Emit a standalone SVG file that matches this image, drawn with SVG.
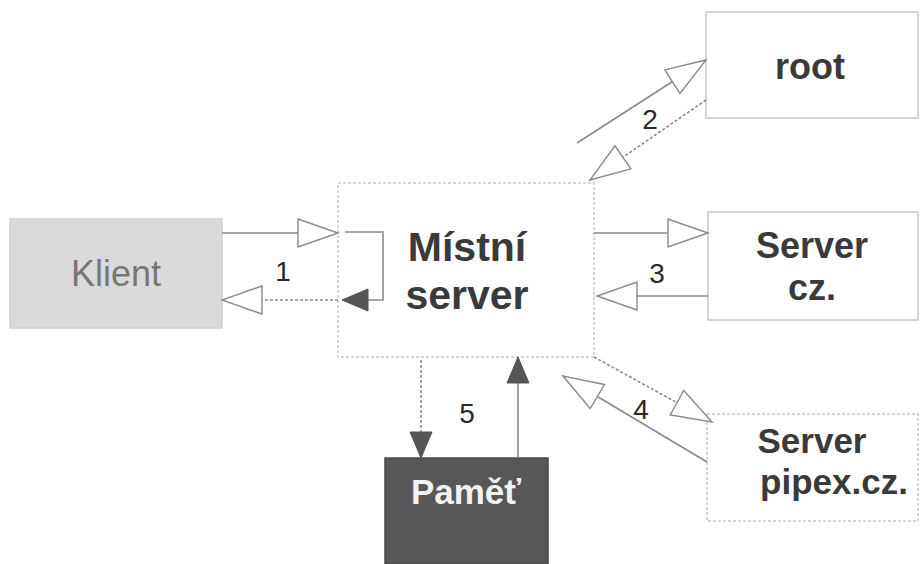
<svg xmlns="http://www.w3.org/2000/svg" width="921" height="564" viewBox="0 0 921 564">
<style>
.box{fill:#fff;stroke:#c8c8c8;stroke-width:1.5}
.dash{stroke-dasharray:3 2}
.lbl{font-family:"Liberation Sans",Arial,sans-serif;font-weight:bold;fill:#3a3a3a;text-anchor:middle}
.num{font-family:"Liberation Sans",Arial,sans-serif;font-size:28px;fill:#2a2a2a;text-anchor:middle}
.ln{fill:none;stroke:#8a8a8a;stroke-width:1.6}
.open{marker-end:url(#open)}
.fill{marker-end:url(#filled)}
</style>
<defs>
<marker id="open" markerUnits="userSpaceOnUse" markerWidth="44" markerHeight="32" refX="41" refY="15" orient="auto">
<path d="M1,1 L41,15 L1,29 Z" fill="#fff" stroke="#8a8a8a" stroke-width="1.4"/>
</marker>
<marker id="filled" markerUnits="userSpaceOnUse" markerWidth="30" markerHeight="26" refX="27" refY="12" orient="auto">
<path d="M1,1 L27,12 L1,23 Z" fill="#555" stroke="#555" stroke-width="1"/>
</marker>
</defs>
<rect width="921" height="564" fill="#fff"/>
<g id="klient">
<rect x="10" y="219" width="212" height="109" fill="#dadada" stroke="#cfcfcf" stroke-width="1.5"/>
<text x="116" y="286" font-family="'Liberation Sans',Arial,sans-serif" font-size="36" fill="#777" text-anchor="middle">Klient</text>
</g>
<g id="mistni-server">
<rect class="box dash" x="338" y="183" width="256" height="174"/>
<text class="lbl" x="467" y="261" font-size="41">Místní</text>
<text class="lbl" x="467" y="309" font-size="41">server</text>
</g>
<g id="root">
<rect class="box" x="706" y="12" width="212" height="106"/>
<text class="lbl" x="810" y="79" font-size="36">root</text>
</g>
<g id="server-cz">
<rect class="box" x="708" y="212" width="210" height="108"/>
<text class="lbl" x="812" y="258" font-size="36">Server</text>
<text class="lbl" x="812" y="300" font-size="36">cz.</text>
</g>
<g id="server-pipex">
<rect class="box dash" x="707" y="414" width="211" height="107"/>
<text class="lbl" x="812" y="453" font-size="35">Server</text>
<text class="lbl" x="834" y="494" font-size="35">pipex.cz.</text>
</g>
<g id="pamet">
<rect x="385" y="458" width="163" height="106" fill="#575757" stroke="#4a4a4a" stroke-width="1.5"/>
<text x="466" y="504" font-family="'Liberation Sans',Arial,sans-serif" font-size="35" font-weight="bold" fill="#f2f2f2" text-anchor="middle">Paměť</text>
</g>
<g id="connectors">
<!-- 1 -->
<line class="ln open" x1="222" y1="233" x2="338" y2="233"/>
<polyline class="ln fill" points="345,232 383,232 383,300 342,300"/>
<line class="ln dash open" x1="338" y1="300" x2="222" y2="300"/>
<text class="num" x="283" y="281">1</text>
<!-- 2 -->
<line class="ln open" x1="577" y1="143" x2="706" y2="60"/>
<line class="ln dash open" x1="706" y1="100" x2="590" y2="180"/>
<text class="num" x="650" y="129">2</text>
<!-- 3 -->
<line class="ln open" x1="594" y1="233" x2="708" y2="233"/>
<line class="ln open" x1="708" y1="296" x2="597" y2="296"/>
<text class="num" x="657" y="283">3</text>
<!-- 4 -->
<line class="ln dash open" x1="594" y1="357" x2="712" y2="422"/>
<line class="ln open" x1="707" y1="462" x2="563" y2="376"/>
<text class="num" x="641" y="419">4</text>
<!-- 5 -->
<line class="ln dash fill" x1="421" y1="360" x2="421" y2="458"/>
<line class="ln fill" x1="518" y1="458" x2="518" y2="357"/>
<text class="num" x="467" y="423">5</text>
</g>
</svg>
